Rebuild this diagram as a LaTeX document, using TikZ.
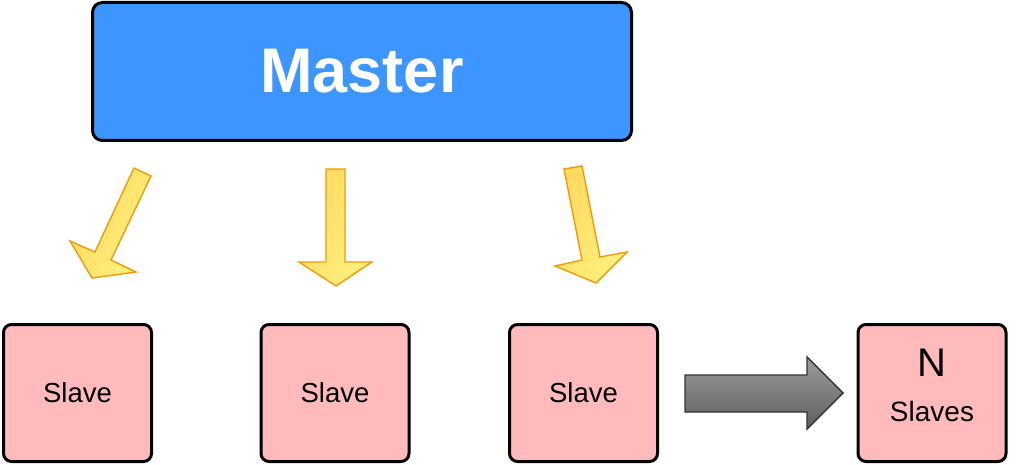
\documentclass[tikz,border=0pt]{standalone}
\usepackage{fontspec}
\setmainfont{Liberation Sans}
\begin{document}
\begin{tikzpicture}[x=1pt,y=-1pt,
  masterbox/.style={draw=black,line width=3pt,rounded corners=10pt,fill=mblue,
    minimum width=539pt,minimum height=138pt,inner sep=0pt,text=white,
    font=\fontsize{63}{70}\selectfont\bfseries},
  slavebox/.style={draw=black,line width=3pt,rounded corners=8pt,fill=spink,
    minimum width=148pt,minimum height=137pt,inner sep=0pt,
    font=\fontsize{27.5}{30}\selectfont},
  yarrow/.style={draw=yorange,line width=1.4pt,line join=miter,
    left color=yleft,right color=yright,shading angle=60},
  garrow/.style={draw=gline,line width=1.4pt,top color=gtop,bottom color=gbot}]
\definecolor{mblue}{HTML}{3D96FF}
\definecolor{spink}{HTML}{FFBBBB}
\definecolor{yorange}{HTML}{F29A0A}
\definecolor{yleft}{HTML}{FFD960}
\definecolor{yright}{HTML}{FFF07E}
\definecolor{gline}{HTML}{333333}
\definecolor{gtop}{HTML}{9C9C9C}
\definecolor{gbot}{HTML}{5E5E5E}
\useasboundingbox (0,0) rectangle (1024,465);
\node[masterbox] (master) at (362,71.5) {Master};
\node[slavebox] (s1) at (77.5,393) {Slave};
\node[slavebox] (s2) at (335,393) {Slave};
\node[slavebox] (s3) at (583.5,393) {Slave};
\node[slavebox] (sn) at (932,393) {};
\node[font=\fontsize{40}{40}\selectfont,anchor=base] (nlab) at (932,376) {N};
\node[font=\fontsize{28}{30}\selectfont,anchor=base] (slab) at (932,421) {Slaves};
% yellow block arrows
\draw[yarrow] (134,168) -- (151,176) -- (111,260) -- (136,272) -- (92,278) -- (70,241) -- (95,252) -- cycle;
\draw[yarrow] (326,169) -- (345,169) -- (345,262) -- (372,262) -- (336,286) -- (299,262) -- (326,262) -- cycle;
\draw[yarrow] (564,169) -- (582,166) -- (600,257) -- (627,252) -- (596,283) -- (555,266) -- (582,260) -- cycle;
% grey block arrow
\draw[garrow] (685,375) -- (807,375) -- (807,357) -- (843,393) -- (807,429) -- (807,412) -- (685,412) -- cycle;
\end{tikzpicture}
\end{document}
